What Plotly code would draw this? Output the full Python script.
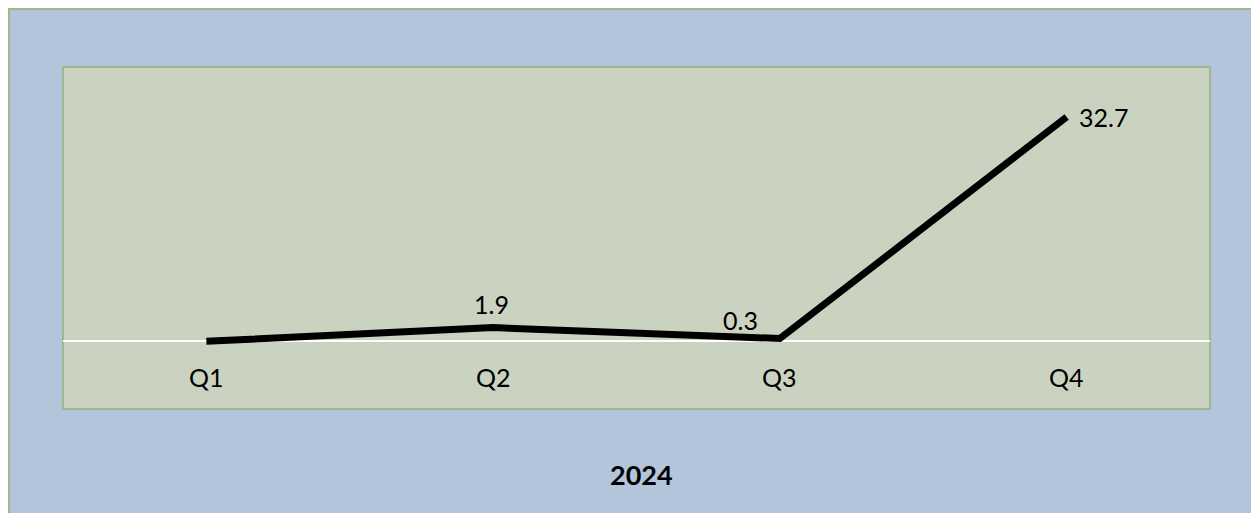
import plotly.graph_objects as go

categories = ["Q1", "Q2", "Q3", "Q4"]
values = [-0.1, 1.9, 0.3, 32.7]
labels = ["", "1.9", "0.3", "32.7"]
title_text = "2024"

FONT = "Lato, 'Open Sans', sans-serif"
BLUE = "#b3c5db"
GREEN = "#cad3bf"
BORDER = "#a3b58f"

# page body has an 8px margin; work in reference coords and shift
OFF = 8
W, H = 1259, 513
PL, PR, PT, PB = 63, 1210, 67, 409  # plot area in reference pixels
L = PL - OFF
T = PT - OFF
R = W - (PR - OFF)
B = H - (PB - OFF)
pw, ph = PR - PL, PB - PT


def px(x):
    return (x - PL) / pw


def py(y):
    return (PB - y) / ph


fig = go.Figure()
fig.add_trace(go.Scatter(
    x=categories, y=values, mode="lines",
    line=dict(color="black", width=7),
    cliponaxis=False, hoverinfo="skip", showlegend=False,
))

lab_font = dict(family=FONT, size=25, color="black")
annotations = [
    dict(x=c, y=0, xref="x", yref="y", text=c, showarrow=False, yshift=-36,
         yanchor="middle", font=lab_font)
    for c in categories
]
# data labels
label_style = [
    dict(xanchor="center", yanchor="bottom", xshift=0, yshift=7),
    dict(xanchor="center", yanchor="bottom", xshift=-2, yshift=7),
    dict(xanchor="right", yanchor="bottom", xshift=-20, yshift=2),
    dict(xanchor="left", yanchor="middle", xshift=10, yshift=0),
]
for c, v, t, st in zip(categories, values, labels, label_style):
    if t:
        annotations.append(dict(x=c, y=v, xref="x", yref="y", text=t,
                                showarrow=False, font=lab_font, **st))
annotations.append(dict(x=px(641), y=py(474), xref="paper", yref="paper",
                        xanchor="center", yanchor="middle",
                        text="<b>" + title_text + "</b>", showarrow=False,
                        font=dict(family=FONT, size=27, color="black")))

fig.update_layout(
    width=W, height=H,
    margin=dict(l=L, r=R, t=T, b=B),
    paper_bgcolor="white",
    plot_bgcolor=GREEN,
    shapes=[
        dict(type="rect", xref="paper", yref="paper", layer="below",
             x0=px(9), x1=px(1257), y0=py(560), y1=py(9),
             fillcolor=BLUE, line=dict(color=BORDER, width=2)),
        dict(type="rect", xref="paper", yref="paper", layer="below",
             x0=0, x1=1, y0=0, y1=1,
             fillcolor=GREEN, line=dict(color=BORDER, width=2)),
    ],
    annotations=annotations,
    xaxis=dict(range=[-0.5, 3.5], showgrid=False, showticklabels=False,
               zeroline=False, showline=False, ticks=""),
    yaxis=dict(range=[-10, 40], showgrid=False, showticklabels=False,
               zeroline=True, zerolinecolor="white", zerolinewidth=2,
               showline=False, ticks=""),
)

fig.write_html("out.html")
